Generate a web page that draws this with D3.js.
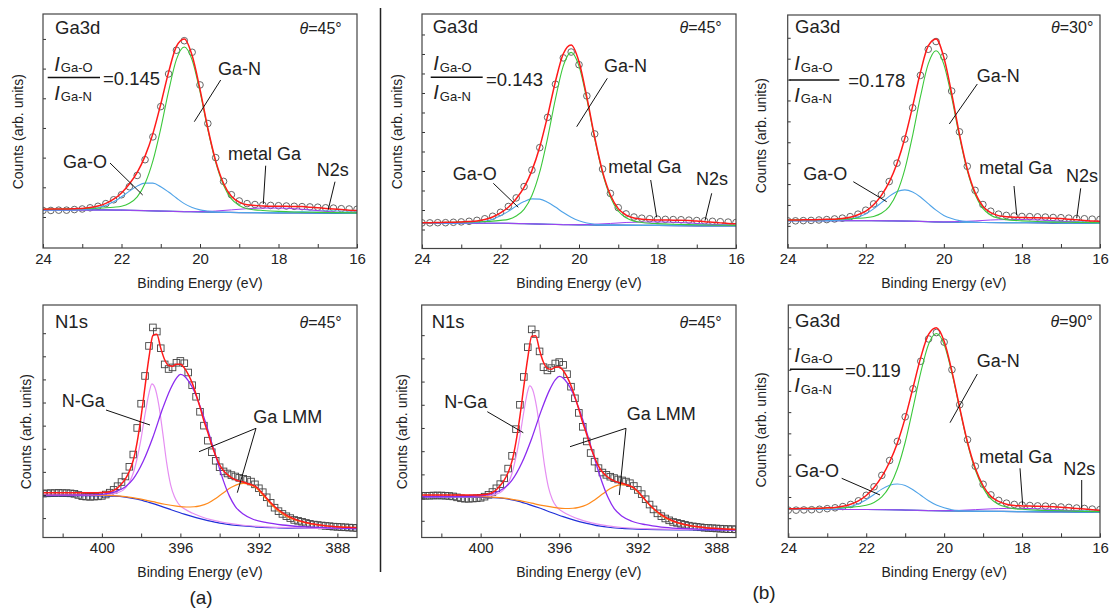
<!DOCTYPE html>
<html>
<head>
<meta charset="utf-8">
<script src="https://cdn.jsdelivr.net/npm/d3@7/dist/d3.min.js"></script>
<style>
  body { margin: 0; background: #fff; }
  svg text { font-family: "Liberation Sans", Arial, sans-serif; fill: #222; }
</style>
</head>
<body>
<svg id="fig" width="1110" height="613"></svg>
<script>
// ---------- energies / ticks ----------
const ga3dEnergy = [24.0, 23.8, 23.6, 23.4, 23.2, 23.0, 22.8, 22.6, 22.4, 22.2, 22.0, 21.8, 21.6, 21.4,
  21.2, 21.0, 20.8, 20.6, 20.4, 20.2, 20.0, 19.8, 19.6, 19.4, 19.2, 19.0, 18.8, 18.6, 18.4, 18.2, 18.0,
  17.8, 17.6, 17.4, 17.2, 17.0, 16.8, 16.6, 16.4, 16.2, 16.0];
const n1sEnergy = [403.0, 402.8, 402.6, 402.4, 402.2, 402.0, 401.8, 401.6, 401.4, 401.2,
  401.0, 400.8, 400.6, 400.4, 400.2, 400.0, 399.8, 399.6, 399.4, 399.2,
  399.0, 398.8, 398.6, 398.4, 398.2, 398.0, 397.8, 397.6, 397.4, 397.2,
  397.0, 396.8, 396.6, 396.4, 396.2, 396.0, 395.8, 395.6, 395.4, 395.2,
  395.0, 394.8, 394.6, 394.4, 394.2, 394.0, 393.8, 393.6, 393.4, 393.2,
  393.0, 392.8, 392.6, 392.4, 392.2, 392.0, 391.8, 391.6, 391.4, 391.2,
  391.0, 390.8, 390.6, 390.4, 390.2, 390.0, 389.8, 389.6, 389.4, 389.2,
  389.0, 388.8, 388.6, 388.4, 388.2, 388.0, 387.8, 387.6, 387.4, 387.2, 387.0];
const ga3dTicks = [24, 23, 22, 21, 20, 19, 18, 17, 16];
const ga3dTickLabels = [24, 22, 20, 18, 16];
const n1sTicks = [402, 400, 398, 396, 394, 392, 390, 388];
const n1sTickLabels = [400, 396, 392, 388];
const ratioLabels = ['0.145', '0.143', '0.178', '0.119'];
const angleLabels = ['45', '45', '30', '45', '45', '90'];

// ---------- Ga3d, (a) theta=45 ----------
const gaA45Points = [0.22, 0.22, 0.23, 0.23, 0.25, 0.27, 0.31, 0.36, 0.45, 0.58,
  0.75, 1.02, 1.40, 1.93, 2.70, 3.72, 4.82, 5.62, 5.94, 5.55,
  4.45, 3.15, 2.00, 1.20, 0.75, 0.54, 0.45, 0.42, 0.40, 0.39,
  0.38, 0.37, 0.36, 0.35, 0.34, 0.33, 0.31, 0.30, 0.28, 0.27, 0.26];
const gaA45Fit = [0.26, 0.27, 0.27, 0.27, 0.28, 0.29, 0.32, 0.37, 0.46, 0.60,
  0.81, 1.11, 1.50, 2.05, 2.81, 3.80, 4.88, 5.75, 6.00, 5.44,
  4.30, 2.99, 1.89, 1.13, 0.70, 0.50, 0.41, 0.39, 0.37, 0.36,
  0.36, 0.36, 0.35, 0.35, 0.33, 0.31, 0.29, 0.27, 0.25, 0.23, 0.22];
const gaA45GaN = [[24.0, 0.26], [23.6, 0.27], [23.2, 0.28], [22.8, 0.29], [22.4, 0.31], [22.2, 0.33],
  [22.0, 0.36], [21.8, 0.46], [21.6, 0.68], [21.4, 1.13], [21.2, 1.89], [21.0, 2.98], [20.8, 4.24],
  [20.6, 5.31], [20.4, 5.73], [20.2, 5.29], [20.0, 4.22], [19.8, 2.94], [19.6, 1.84], [19.4, 1.07],
  [19.2, 0.61], [19.0, 0.39], [18.8, 0.28], [18.6, 0.24], [18.4, 0.22], [18.0, 0.19], [17.6, 0.17],
  [17.0, 0.155], [16.0, 0.14]];
const gaA45GaO = [[24.0, 0.24], [23.2, 0.24], [23.0, 0.25], [22.8, 0.27], [22.6, 0.31], [22.4, 0.39],
  [22.2, 0.51], [22.0, 0.68], [21.8, 0.87], [21.6, 1.04], [21.4, 1.14], [21.2, 1.14], [21.0, 1.02],
  [20.8, 0.84], [20.6, 0.64], [20.4, 0.45], [20.2, 0.32], [20.0, 0.24], [19.8, 0.20], [19.6, 0.17],
  [19.4, 0.16], [19.0, 0.15], [18.0, 0.14], [17.0, 0.13], [16.0, 0.12]];
const gaA45Metal = [[24, 0.24], [22, 0.23], [21, 0.20], [20.4, 0.18], [20.0, 0.18], [19.6, 0.20],
  [19.2, 0.24], [18.8, 0.28], [18.4, 0.30], [18.0, 0.30], [17.6, 0.28], [17.2, 0.24], [16.8, 0.19],
  [16.4, 0.15], [16.0, 0.13]];
const gaA45N2s = [[24, 0.24], [22, 0.23], [21, 0.20], [20, 0.17], [19, 0.15], [18.4, 0.145], [18.0, 0.15],
  [17.6, 0.17], [17.2, 0.20], [16.8, 0.21], [16.4, 0.20], [16.0, 0.19]];
const gaA45Base = [[24, 0.24], [22.4, 0.24], [22.0, 0.23], [21.4, 0.215], [21.0, 0.20], [20.4, 0.18],
  [20.0, 0.17], [19.4, 0.155], [19.0, 0.15], [18.0, 0.14], [17.0, 0.13], [16.0, 0.12]];

// ---------- Ga3d, (b) theta=45 ----------
const gaB45Points = [0.34, 0.34, 0.35, 0.35, 0.37, 0.39, 0.42, 0.47, 0.55, 0.68,
  0.88, 1.18, 1.62, 2.20, 3.05, 4.20, 5.75, 7.45, 8.80, 9.10,
  8.45, 6.85, 4.90, 3.10, 1.85, 1.12, 0.80, 0.64, 0.58, 0.55,
  0.53, 0.52, 0.51, 0.50, 0.48, 0.46, 0.44, 0.42, 0.40, 0.38, 0.36];
const gaB45Fit = [0.35, 0.35, 0.36, 0.37, 0.37, 0.39, 0.41, 0.44, 0.51, 0.64,
  0.85, 1.14, 1.58, 2.16, 3.02, 4.23, 5.82, 7.59, 9.01, 9.46,
  8.60, 6.79, 4.73, 2.97, 1.77, 1.07, 0.74, 0.59, 0.53, 0.50,
  0.49, 0.49, 0.48, 0.48, 0.46, 0.44, 0.40, 0.37, 0.34, 0.31, 0.29];
const gaB45GaN = [[24.0, 0.35], [23.6, 0.36], [23.2, 0.37], [22.8, 0.39], [22.4, 0.41], [22.2, 0.43],
  [22.0, 0.47], [21.8, 0.52], [21.6, 0.69], [21.4, 1.03], [21.2, 1.74], [21.0, 2.95], [20.8, 4.69],
  [20.6, 6.70], [20.4, 8.39], [20.2, 9.08], [20.0, 8.38], [19.8, 6.67], [19.6, 4.65], [19.4, 2.89],
  [19.2, 1.67], [19.0, 0.95], [18.8, 0.60], [18.6, 0.43], [18.4, 0.36], [18.2, 0.32], [18.0, 0.30],
  [17.6, 0.27], [17.2, 0.25], [16.8, 0.23], [16.4, 0.22], [16.0, 0.21]];
const gaB45GaO = [[24.0, 0.32], [23.2, 0.32], [23.0, 0.33], [22.8, 0.34], [22.6, 0.36], [22.4, 0.42],
  [22.2, 0.53], [22.0, 0.70], [21.8, 0.93], [21.6, 1.20], [21.4, 1.43], [21.2, 1.57], [21.0, 1.56],
  [20.8, 1.40], [20.6, 1.15], [20.4, 0.87], [20.2, 0.63], [20.0, 0.45], [19.8, 0.33], [19.6, 0.27],
  [19.4, 0.24], [19.2, 0.23], [19.0, 0.22], [18.0, 0.21], [17.0, 0.19], [16.0, 0.18]];
const gaB45Metal = [[24, 0.32], [22, 0.32], [21, 0.28], [20.4, 0.25], [20.0, 0.25], [19.6, 0.27],
  [19.2, 0.31], [18.8, 0.36], [18.4, 0.38], [18.0, 0.39], [17.6, 0.37], [17.2, 0.34], [16.8, 0.28],
  [16.4, 0.24], [16.0, 0.20]];
const gaB45N2s = [[24, 0.32], [22, 0.32], [21, 0.28], [20, 0.24], [19, 0.22], [18.4, 0.21], [18.0, 0.22],
  [17.6, 0.24], [17.2, 0.27], [16.8, 0.27], [16.4, 0.26], [16.0, 0.24]];
const gaB45Base = [[24, 0.32], [22.0, 0.32], [21.4, 0.30], [21.0, 0.28], [20.4, 0.25], [20.0, 0.24],
  [19.4, 0.22], [19.0, 0.22], [18.0, 0.21], [17.0, 0.19], [16.0, 0.18]];

// ---------- Ga3d, (b) theta=30 ----------
const gaB30Points = [0.24, 0.24, 0.25, 0.26, 0.28, 0.30, 0.33, 0.37, 0.44, 0.56,
  0.75, 1.05, 1.50, 2.12, 3.00, 4.15, 5.65, 7.20, 8.45, 8.82,
  8.10, 6.45, 4.50, 2.85, 1.70, 1.02, 0.70, 0.56, 0.50, 0.47,
  0.45, 0.44, 0.43, 0.42, 0.40, 0.39, 0.37, 0.35, 0.34, 0.32, 0.31];
const gaB30Fit = [0.28, 0.28, 0.29, 0.29, 0.30, 0.31, 0.32, 0.35, 0.41, 0.53,
  0.71, 1.01, 1.46, 2.09, 2.98, 4.19, 5.72, 7.35, 8.61, 8.94,
  8.06, 6.34, 4.38, 2.72, 1.59, 0.94, 0.63, 0.49, 0.44, 0.41,
  0.40, 0.39, 0.39, 0.38, 0.36, 0.35, 0.32, 0.29, 0.26, 0.23, 0.22];
const gaB30GaN = [[24.0, 0.28], [23.6, 0.29], [23.2, 0.30], [22.8, 0.31], [22.4, 0.34], [22.2, 0.36],
  [22.0, 0.39], [21.8, 0.45], [21.6, 0.60], [21.4, 0.92], [21.2, 1.58], [21.0, 2.70], [20.8, 4.32],
  [20.6, 6.18], [20.4, 7.75], [20.2, 8.38], [20.0, 7.73], [19.8, 6.15], [19.6, 4.27], [19.4, 2.64],
  [19.2, 1.50], [19.0, 0.84], [18.8, 0.51], [18.6, 0.36], [18.4, 0.30], [18.2, 0.26], [18.0, 0.24],
  [17.6, 0.21], [17.2, 0.18], [16.8, 0.17], [16.4, 0.16], [16.0, 0.15]];
const gaB30GaO = [[24.0, 0.25], [23.0, 0.25], [22.8, 0.26], [22.6, 0.28], [22.4, 0.33], [22.2, 0.42],
  [22.0, 0.57], [21.8, 0.81], [21.6, 1.11], [21.4, 1.41], [21.2, 1.64], [21.0, 1.72], [20.8, 1.62],
  [20.6, 1.38], [20.4, 1.06], [20.2, 0.75], [20.0, 0.50], [19.8, 0.35], [19.6, 0.25], [19.4, 0.20],
  [19.2, 0.17], [19.0, 0.16], [18.0, 0.15], [17.0, 0.13], [16.0, 0.12]];
const gaB30Metal = [[24, 0.25], [22, 0.25], [21, 0.23], [20.4, 0.20], [20.0, 0.19], [19.6, 0.205],
  [19.2, 0.235], [18.8, 0.28], [18.4, 0.30], [18.0, 0.30], [17.6, 0.285], [17.2, 0.245], [16.8, 0.20],
  [16.4, 0.16], [16.0, 0.13]];
const gaB30N2s = [[24, 0.25], [22, 0.25], [21, 0.23], [20, 0.18], [19, 0.16], [18.4, 0.155], [18.0, 0.16],
  [17.6, 0.185], [17.2, 0.205], [16.8, 0.21], [16.4, 0.195], [16.0, 0.18]];
const gaB30Base = [[24, 0.25], [22.0, 0.25], [21.4, 0.24], [21.0, 0.23], [20.4, 0.20], [20.0, 0.18],
  [19.4, 0.165], [19.0, 0.16], [18.0, 0.15], [17.0, 0.13], [16.0, 0.12]];

// ---------- Ga3d, (b) theta=90 ----------
const gaB90Points = [0.38, 0.38, 0.39, 0.40, 0.42, 0.45, 0.49, 0.55, 0.65, 0.82,
  1.08, 1.48, 2.02, 2.72, 3.62, 4.78, 6.10, 7.40, 8.45, 8.75,
  8.30, 7.00, 5.35, 3.70, 2.45, 1.60, 1.10, 0.84, 0.71, 0.65,
  0.62, 0.60, 0.58, 0.57, 0.55, 0.53, 0.51, 0.48, 0.46, 0.43, 0.41];
const gaB90Fit = [0.45, 0.45, 0.46, 0.46, 0.47, 0.49, 0.51, 0.56, 0.66, 0.82,
  1.07, 1.45, 1.96, 2.65, 3.55, 4.73, 6.15, 7.58, 8.66, 8.98,
  8.34, 6.92, 5.20, 3.58, 2.35, 1.53, 1.03, 0.79, 0.66, 0.60,
  0.58, 0.57, 0.56, 0.55, 0.54, 0.52, 0.49, 0.46, 0.43, 0.40, 0.38];
const gaB90GaN = [[24.0, 0.45], [23.6, 0.46], [23.2, 0.47], [22.8, 0.49], [22.4, 0.52], [22.2, 0.55],
  [22.0, 0.61], [21.8, 0.74], [21.6, 1.00], [21.4, 1.50], [21.2, 2.33], [21.0, 3.58], [20.8, 5.19],
  [20.6, 6.87], [20.4, 8.20], [20.2, 8.71], [20.0, 8.19], [19.8, 6.84], [19.6, 5.15], [19.4, 3.52],
  [19.2, 2.27], [19.0, 1.43], [18.8, 0.91], [18.6, 0.65], [18.4, 0.52], [18.2, 0.45], [18.0, 0.42],
  [17.6, 0.38], [17.2, 0.36], [16.8, 0.34], [16.4, 0.32], [16.0, 0.31]];
const gaB90GaO = [[24.0, 0.41], [23.2, 0.41], [23.0, 0.42], [22.8, 0.43], [22.6, 0.47], [22.4, 0.55],
  [22.2, 0.68], [22.0, 0.87], [21.8, 1.12], [21.6, 1.37], [21.4, 1.55], [21.2, 1.61], [21.0, 1.54],
  [20.8, 1.34], [20.6, 1.08], [20.4, 0.82], [20.2, 0.62], [20.0, 0.49], [19.8, 0.40], [19.6, 0.36],
  [19.4, 0.34], [19.2, 0.33], [19.0, 0.325], [18.0, 0.31], [17.0, 0.295], [16.0, 0.28]];
const gaB90Metal = [[24, 0.41], [22, 0.41], [21, 0.385], [20.4, 0.36], [20.0, 0.355], [19.6, 0.37],
  [19.2, 0.405], [18.8, 0.44], [18.4, 0.46], [18.0, 0.46], [17.6, 0.445], [17.2, 0.41], [16.8, 0.36],
  [16.4, 0.32], [16.0, 0.29]];
const gaB90N2s = [[24, 0.41], [22, 0.41], [21, 0.385], [20, 0.345], [19, 0.325], [18.4, 0.315], [18.0, 0.32],
  [17.6, 0.345], [17.2, 0.37], [16.8, 0.37], [16.4, 0.355], [16.0, 0.34]];
const gaB90Base = [[24, 0.41], [22.0, 0.41], [21.4, 0.40], [21.0, 0.385], [20.4, 0.36], [20.0, 0.345],
  [19.4, 0.33], [19.0, 0.325], [18.0, 0.31], [17.0, 0.295], [16.0, 0.28]];

// ---------- N1s, (a) ----------
const n1sAPoints = [1.06, 1.07, 1.08, 1.08, 1.09, 1.08, 1.08, 1.07, 1.05, 1.00,
  0.95, 0.93, 0.92, 0.93, 0.94, 0.96, 1.02, 1.10, 1.22, 1.38,
  1.56, 1.80, 2.22, 2.75, 3.90, 4.95, 6.15, 7.45, 8.25, 8.07,
  7.35, 6.65, 6.45, 6.52, 6.72, 6.80, 6.70, 6.30, 5.75, 5.25,
  4.60, 4.00, 3.35, 2.85, 2.48, 2.20, 2.02, 1.93, 1.86, 1.80,
  1.74, 1.70, 1.65, 1.58, 1.46, 1.29, 1.12, 0.90, 0.66, 0.45,
  0.30, 0.18, 0.08, 0.00, -0.08, -0.12, -0.16, -0.21, -0.25, -0.28,
  -0.30, -0.32, -0.34, -0.35, -0.37, -0.38, -0.39, -0.40, -0.41, -0.42, -0.43];
const n1sAFit = [1.10, 1.10, 1.10, 1.10, 1.10, 1.10, 1.10, 1.10, 1.10, 1.10,
  1.10, 1.10, 1.10, 1.10, 1.10, 1.11, 1.12, 1.14, 1.20, 1.31,
  1.48, 1.70, 2.02, 2.50, 3.30, 4.40, 5.70, 6.95, 7.90, 7.95,
  7.35, 6.85, 6.60, 6.57, 6.66, 6.66, 6.50, 6.22, 5.85, 5.35,
  4.80, 4.20, 3.70, 3.15, 2.70, 2.30, 2.05, 1.88, 1.75, 1.66,
  1.60, 1.56, 1.50, 1.45, 1.38, 1.24, 1.05, 0.86, 0.67, 0.50,
  0.36, 0.24, 0.13, 0.04, -0.04, -0.10, -0.15, -0.19, -0.23, -0.26,
  -0.29, -0.31, -0.33, -0.35, -0.36, -0.38, -0.39, -0.40, -0.40, -0.41, -0.41];
const n1sABase = [[403, 0.97], [401, 0.97], [400, 0.96], [399.4, 0.95], [398.8, 0.91], [398.2, 0.82],
  [397.6, 0.68], [397.0, 0.52], [396.4, 0.34], [395.8, 0.17], [395.2, 0.02], [394.6, -0.11],
  [394.0, -0.22], [393.4, -0.29], [392.8, -0.34], [392.0, -0.39], [391.0, -0.42], [389.5, -0.44], [387, -0.46]];
const n1sANGa = [[403, 0.98], [401, 0.98], [400, 0.99], [399.6, 1.02], [399.2, 1.10], [398.9, 1.22],
  [398.6, 1.55], [398.4, 1.95], [398.2, 2.60], [398.0, 3.45], [397.8, 4.50], [397.6, 5.40], [397.45, 5.81],
  [397.3, 5.65], [397.1, 4.90], [396.9, 3.70], [396.7, 2.40], [396.5, 1.45], [396.3, 0.92], [396.1, 0.62],
  [395.8, 0.40], [395.4, 0.22], [395.0, 0.08], [394.4, -0.08], [393.6, -0.22], [392.8, -0.31],
  [391.6, -0.38], [390, -0.42], [387, -0.45]];
const n1sALmmMain = [[403, 0.99], [401, 1.00], [400, 1.03], [399.6, 1.08], [399.2, 1.18], [398.8, 1.36],
  [398.4, 1.70], [397.9, 2.45], [397.4, 3.50], [396.9, 4.75], [396.5, 5.60], [396.2, 6.06], [396.0, 6.22],
  [395.8, 6.15], [395.6, 5.95], [395.3, 5.50], [395.0, 4.85], [394.7, 4.10], [394.4, 3.25], [394.1, 2.40],
  [393.8, 1.60], [393.5, 0.95], [393.2, 0.50], [392.8, 0.18], [392.3, -0.05], [391.6, -0.20],
  [390.8, -0.30], [389.8, -0.37], [388.5, -0.42], [387, -0.45]];
const n1sALmmSide = [[403, 1.00], [401, 1.00], [400, 0.99], [399.4, 0.97], [398.8, 0.93], [398.0, 0.82],
  [397.4, 0.71], [396.8, 0.60], [396.2, 0.52], [395.7, 0.48], [395.3, 0.49], [395.0, 0.53], [394.6, 0.64],
  [394.2, 0.85], [393.8, 1.10], [393.4, 1.33], [393.0, 1.48], [392.8, 1.50], [392.5, 1.46], [392.2, 1.34],
  [391.8, 1.00], [391.4, 0.62], [391.0, 0.30], [390.6, 0.07], [390.2, -0.07], [389.8, -0.17],
  [389.4, -0.24], [388.8, -0.32], [388.0, -0.38], [387, -0.42]];

// ---------- N1s, (b) ----------
const n1sBPoints = [1.07, 1.08, 1.08, 1.09, 1.09, 1.09, 1.08, 1.07, 1.05, 1.01,
  0.97, 0.95, 0.95, 0.96, 0.97, 0.99, 1.04, 1.12, 1.24, 1.40,
  1.58, 1.83, 2.25, 2.80, 3.95, 5.00, 6.20, 7.48, 8.25, 8.05,
  7.30, 6.62, 6.48, 6.58, 6.78, 6.84, 6.72, 6.32, 5.78, 5.28,
  4.65, 4.05, 3.42, 2.92, 2.55, 2.27, 2.08, 1.98, 1.90, 1.84,
  1.78, 1.74, 1.69, 1.62, 1.50, 1.33, 1.15, 0.93, 0.70, 0.49,
  0.32, 0.20, 0.10, 0.02, -0.05, -0.09, -0.13, -0.17, -0.21, -0.24,
  -0.26, -0.28, -0.30, -0.31, -0.32, -0.33, -0.34, -0.35, -0.36, -0.36, -0.37];
const n1sBFit = [1.11, 1.11, 1.11, 1.11, 1.11, 1.11, 1.11, 1.11, 1.11, 1.11,
  1.11, 1.11, 1.11, 1.11, 1.11, 1.12, 1.13, 1.16, 1.22, 1.34,
  1.52, 1.75, 2.08, 2.58, 3.40, 4.50, 5.80, 7.02, 7.95, 7.98,
  7.35, 6.83, 6.57, 6.53, 6.62, 6.63, 6.48, 6.20, 5.83, 5.34,
  4.80, 4.22, 3.72, 3.18, 2.74, 2.36, 2.10, 1.93, 1.81, 1.72,
  1.66, 1.62, 1.56, 1.50, 1.42, 1.27, 1.08, 0.88, 0.69, 0.53,
  0.39, 0.27, 0.16, 0.07, -0.01, -0.07, -0.12, -0.16, -0.20, -0.23,
  -0.25, -0.27, -0.29, -0.31, -0.32, -0.33, -0.34, -0.35, -0.36, -0.36, -0.37];
const n1sBBase = [[403, 1.02], [401, 1.02], [400, 1.01], [399.4, 1.00], [398.8, 0.96], [398.2, 0.87],
  [397.6, 0.72], [397.0, 0.55], [396.4, 0.36], [395.8, 0.18], [395.2, 0.02], [394.6, -0.11],
  [394.0, -0.22], [393.4, -0.29], [392.8, -0.33], [392.0, -0.36], [391.0, -0.38], [389.5, -0.39], [387, -0.40]];
const n1sBNGa = [[403, 1.03], [401, 1.03], [400, 1.04], [399.6, 1.07], [399.2, 1.15], [398.9, 1.28],
  [398.6, 1.62], [398.4, 2.05], [398.2, 2.75], [398.0, 3.65], [397.8, 4.70], [397.6, 5.60], [397.5, 5.82],
  [397.35, 5.65], [397.15, 4.90], [396.95, 3.70], [396.75, 2.40], [396.55, 1.45], [396.35, 0.92],
  [396.15, 0.62], [395.8, 0.38], [395.4, 0.21], [395.0, 0.07], [394.4, -0.08], [393.6, -0.21],
  [392.8, -0.29], [391.6, -0.34], [390, -0.37], [387, -0.39]];
const n1sBLmmMain = [[403, 1.04], [401, 1.05], [400, 1.08], [399.6, 1.13], [399.2, 1.23], [398.8, 1.41],
  [398.4, 1.75], [397.9, 2.50], [397.4, 3.55], [396.9, 4.78], [396.5, 5.62], [396.2, 6.07], [396.0, 6.22],
  [395.8, 6.15], [395.6, 5.95], [395.3, 5.50], [395.0, 4.85], [394.7, 4.10], [394.4, 3.25], [394.1, 2.40],
  [393.8, 1.62], [393.5, 0.98], [393.2, 0.52], [392.8, 0.20], [392.3, -0.02], [391.6, -0.17],
  [390.8, -0.27], [389.8, -0.33], [388.5, -0.37], [387, -0.39]];
const n1sBLmmSide = [[403, 1.05], [401, 1.05], [400, 1.04], [399.4, 1.02], [398.8, 0.98], [398.0, 0.87],
  [397.4, 0.76], [396.8, 0.65], [396.2, 0.57], [395.7, 0.53], [395.3, 0.54], [395.0, 0.58], [394.6, 0.69],
  [394.2, 0.90], [393.8, 1.15], [393.4, 1.39], [393.0, 1.54], [392.8, 1.56], [392.5, 1.53], [392.2, 1.40],
  [391.8, 1.06], [391.4, 0.68], [391.0, 0.36], [390.6, 0.12], [390.2, -0.03], [389.8, -0.13],
  [389.4, -0.20], [388.8, -0.28], [388.0, -0.34], [387, -0.37]];

// ---------- styles ----------
const gaColors = { base: '#1c1ca0', n2s: '#5ec4ee', metal: '#a040f0', gao: '#4fa3e8', gan: '#3cc83c', fit: '#ff1a1a' };
const n1sColors = { base: '#2030d8', nga: '#e58ef2', main: '#8c2cf0', side: '#ff8a1c', fit: '#ff1a1a' };

function gaCurves (fit, gan, gao, metal, n2s, base) {
  return [
    { data: base, color: gaColors.base, width: 1.2 },
    { data: n2s, color: gaColors.n2s, width: 1 },
    { data: metal, color: gaColors.metal, width: 1 },
    { data: gao, color: gaColors.gao, width: 1.1 },
    { data: gan, color: gaColors.gan, width: 1.1 },
    { data: d3.zip(ga3dEnergy, fit), color: gaColors.fit, width: 1.5 }
  ];
}

function n1sCurves (fit, nga, main, side, base) {
  return [
    { data: base, color: n1sColors.base, width: 1.2 },
    { data: nga, color: n1sColors.nga, width: 1.2 },
    { data: side, color: n1sColors.side, width: 1.2 },
    { data: main, color: n1sColors.main, width: 1.3 },
    { data: d3.zip(n1sEnergy, fit), color: n1sColors.fit, width: 1.5 }
  ];
}

const ga3dAxis = { xDomain: [24, 16], xTicks: ga3dTicks, xLabels: ga3dTickLabels, energy: ga3dEnergy, marker: 'circle' };
const n1sAxis = { xDomain: [403, 387], xTicks: n1sTicks, xLabels: n1sTickLabels, energy: n1sEnergy, marker: 'square' };

const panels = [
  Object.assign({}, ga3dAxis, {
    id: 'a1', x0: 43, x1: 357, y0: 14, y1: 248, yDomain: [-1.045, 6.84], yTicks: 6,
    title: 'Ga3d', titleX: 12, titleY: 19.5, angle: angleLabels[0], angleX: 298.7, ratio: ratioLabels[0],
    yTitleDx: 20, yTitleY: 131.7,
    frac: { ix: 11.3, numY: 56.5, denY: 85.5, barX1: 4.7, barX2: 57, barY: 63.5, eqX: 60, eqY: 71 },
    notes: [
      { text: 'Ga-N', x: 175, y: 61, lines: [[177.7, 66, 151.3, 107.7]] },
      { text: 'Ga-O', x: 20, y: 154, lines: [[67, 149, 99.7, 181]] },
      { text: 'metal Ga', x: 185, y: 146, lines: [[222.7, 151.7, 220.3, 190]] },
      { text: 'N2s', x: 273.7, y: 162, lines: [[292, 167.7, 285.3, 195.3]] }
    ],
    points: gaA45Points,
    curves: gaCurves(gaA45Fit, gaA45GaN, gaA45GaO, gaA45Metal, gaA45N2s, gaA45Base)
  }),
  Object.assign({}, ga3dAxis, {
    id: 'b1', x0: 422, x1: 736, y0: 14, y1: 248.5, yDomain: [-0.974, 11.05], yTicks: 10,
    title: 'Ga3d', titleX: 10.7, titleY: 19.3, angle: angleLabels[1], angleX: 299.7, ratio: ratioLabels[1],
    yTitleDx: 20, yTitleY: 131.7,
    frac: { ix: 11.3, numY: 56, denY: 85.3, barX1: 8.7, barX2: 60.7, barY: 63.3, eqX: 64, eqY: 72 },
    notes: [
      { text: 'Ga-N', x: 182, y: 57.7, lines: [[185.3, 64.3, 154.7, 112.7]] },
      { text: 'Ga-O', x: 30.7, y: 166, lines: [[71.3, 169.3, 96.3, 193.3]] },
      { text: 'metal Ga', x: 186.3, y: 159.3, lines: [[228.7, 166, 234.7, 203.3]] },
      { text: 'N2s', x: 274, y: 171, lines: [[289.7, 179.3, 283, 206.7]] }
    ],
    points: gaB45Points,
    curves: gaCurves(gaB45Fit, gaB45GaN, gaB45GaO, gaB45Metal, gaB45N2s, gaB45Base)
  }),
  Object.assign({}, ga3dAxis, {
    id: 'b2', x0: 787.7, x1: 1100, y0: 15, y1: 248, yDomain: [-1.06, 10.09], yTicks: 9,
    title: 'Ga3d', titleX: 7.3, titleY: 18.3, angle: angleLabels[2], angleX: 305.6, ratio: ratioLabels[2],
    yTitleDx: 21.7, yTitleY: 135.7,
    frac: { ix: 6.6, numY: 55, denY: 86.7, barX1: 1.6, barX2: 51.6, barY: 65, eqX: 60.6, eqY: 72.3 },
    notes: [
      { text: 'Ga-N', x: 189, y: 66.7, lines: [[189.6, 69, 161.6, 109]] },
      { text: 'Ga-O', x: 15.6, y: 165, lines: [[65.6, 166.7, 99, 186.7]] },
      { text: 'metal Ga', x: 191.6, y: 159, lines: [[226.3, 171, 229, 200]] },
      { text: 'N2s', x: 278.3, y: 166.7, lines: [[293, 173.3, 289, 203.3]] }
    ],
    points: gaB30Points,
    curves: gaCurves(gaB30Fit, gaB30GaN, gaB30GaO, gaB30Metal, gaB30N2s, gaB30Base)
  }),
  Object.assign({}, n1sAxis, {
    id: 'a2', x0: 43, x1: 357, y0: 305, y1: 537.5, yDomain: [-0.84, 9.22], yTicks: 8,
    title: 'N1s', titleX: 12, titleY: 23.3, angle: angleLabels[3], angleX: 298.7,
    yTitleDx: 12.5, yTitleY: 431.7,
    notes: [
      { text: 'N-Ga', x: 18.7, y: 101.7, lines: [[63, 105, 107, 120]] },
      { text: 'Ga LMM', x: 210.3, y: 118.3, lines: [[213, 123.3, 156, 146.7], [213, 123.3, 194.3, 187.7]] }
    ],
    points: n1sAPoints,
    curves: n1sCurves(n1sAFit, n1sANGa, n1sALmmMain, n1sALmmSide, n1sABase)
  }),
  Object.assign({}, n1sAxis, {
    id: 'b3', x0: 421.7, x1: 736, y0: 305, y1: 537.5, yDomain: [-0.72, 9.3], yTicks: 8,
    title: 'N1s', titleX: 10, titleY: 23.3, angle: angleLabels[4], angleX: 300,
    yTitleDx: 14.7, yTitleY: 431.7,
    notes: [
      { text: 'N-Ga', x: 22.6, y: 103.3, lines: [[65.6, 106.7, 101.6, 127.7]] },
      { text: 'Ga LMM', x: 205, y: 115, lines: [[204.3, 123.3, 148.3, 141.7], [204.3, 123.3, 197.6, 190]] }
    ],
    points: n1sBPoints,
    curves: n1sCurves(n1sBFit, n1sBNGa, n1sBLmmMain, n1sBLmmSide, n1sBBase)
  }),
  Object.assign({}, ga3dAxis, {
    id: 'b4', x0: 788.3, x1: 1100, y0: 305, y1: 537.3, yDomain: [-0.90, 10.05], yTicks: 9,
    title: 'Ga3d', titleX: 6.7, titleY: 22.3, angle: angleLabels[5], angleX: 304.4, ratio: ratioLabels[3],
    yTitleDx: 22.3, yTitleY: 430,
    frac: { ix: 6, numY: 56.7, denY: 87, barX1: 1.7, barX2: 55, barY: 64.3, eqX: 56.7, eqY: 71.7 },
    notes: [
      { text: 'Ga-N', x: 188.4, y: 61.7, lines: [[189, 69, 161.7, 117.7]] },
      { text: 'Ga-O', x: 6.7, y: 171.7, lines: [[53.4, 173.3, 91.7, 190]] },
      { text: 'metal Ga', x: 191, y: 158.3, lines: [[231.7, 163.3, 234.4, 200]] },
      { text: 'N2s', x: 275, y: 170, lines: [[293.4, 175, 293.4, 203.3]] }
    ],
    points: gaB90Points,
    curves: gaCurves(gaB90Fit, gaB90GaN, gaB90GaO, gaB90Metal, gaB90N2s, gaB90Base)
  })
];

const fontFamily = '"Liberation Sans", Arial, sans-serif';
const svg = d3.select('#fig');

function drawPanel (p) {
  const x = d3.scaleLinear().domain(p.xDomain).range([p.x0, p.x1]);
  const y = d3.scaleLinear().domain(p.yDomain).range([p.y1, p.y0]);
  const g = svg.append('g').attr('class', 'panel-' + p.id);

  g.append('clipPath').attr('id', 'clip-' + p.id)
    .append('rect')
      .attr('x', p.x0).attr('y', p.y0)
      .attr('width', p.x1 - p.x0).attr('height', p.y1 - p.y0);

  const plot = g.append('g').attr('clip-path', `url(#clip-${p.id})`);
  const pts = d3.zip(p.energy, p.points);

  if (p.marker === 'circle') {
    plot.selectAll('.pt').data(pts).enter().append('circle')
      .attr('class', 'pt')
      .attr('cx', d => x(d[0]))
      .attr('cy', d => y(d[1]))
      .attr('r', 3.3)
      .attr('fill', 'none')
      .attr('stroke', '#555')
      .attr('stroke-width', 0.9);
  } else {
    plot.selectAll('.pt').data(pts).enter().append('rect')
      .attr('class', 'pt')
      .attr('x', d => x(d[0]) - 3.3)
      .attr('y', d => y(d[1]) - 3.3)
      .attr('width', 6.6)
      .attr('height', 6.6)
      .attr('fill', 'none')
      .attr('stroke', '#444')
      .attr('stroke-width', 0.9);
  }

  const line = d3.line().x(d => x(d[0])).y(d => y(d[1])).curve(d3.curveMonotoneX);
  p.curves.forEach(c => {
    plot.append('path').datum(c.data)
      .attr('d', line)
      .attr('fill', 'none')
      .attr('stroke', c.color)
      .attr('stroke-width', c.width);
  });

  // axes: inward ticks, no domain line (frame drawn separately)
  g.append('g')
    .attr('transform', `translate(0,${p.y1})`)
    .call(d3.axisBottom(x).tickValues(p.xTicks).tickSize(-4).tickPadding(5)
      .tickFormat(d => p.xLabels.includes(d) ? d : ''))
    .call(a => a.select('.domain').remove())
    .attr('font-size', 15).attr('font-family', fontFamily).attr('color', '#333');

  g.append('g')
    .attr('transform', `translate(${p.x0},0)`)
    .call(d3.axisLeft(y).tickValues(d3.range(0, p.yTicks + 1)).tickSize(-3).tickFormat(''))
    .call(a => a.select('.domain').remove())
    .attr('color', '#333');

  g.append('rect')
    .attr('x', p.x0).attr('y', p.y0)
    .attr('width', p.x1 - p.x0).attr('height', p.y1 - p.y0)
    .attr('fill', 'none').attr('stroke', '#444').attr('stroke-width', 1.2);

  g.append('text')
    .attr('x', (p.x0 + p.x1) / 2).attr('y', p.y1 + 39.5)
    .attr('text-anchor', 'middle').attr('font-size', 14)
    .text('Binding Energy (eV)');

  g.append('text')
    .attr('transform', `translate(${p.x0 - p.yTitleDx},${p.yTitleY}) rotate(-90)`)
    .attr('text-anchor', 'middle').attr('font-size', 14)
    .text('Counts (arb. units)');

  g.append('text')
    .attr('x', p.x0 + p.titleX).attr('y', p.y0 + p.titleY)
    .attr('font-size', 18.5)
    .text(p.title);

  const th = g.append('text')
    .attr('x', p.x0 + p.angleX).attr('y', p.y0 + p.titleY)
    .attr('text-anchor', 'end').attr('font-size', 16);
  th.append('tspan').attr('font-style', 'italic').text('θ');
  th.append('tspan').text('=' + p.angle + '°');

  if (p.frac) {
    const f = p.frac;
    [['Ga-O', f.numY], ['Ga-N', f.denY]].forEach(([sub, yy]) => {
      const t = g.append('text').attr('x', p.x0 + f.ix).attr('y', p.y0 + yy).attr('font-size', 20);
      t.append('tspan').attr('font-style', 'italic').text('I');
      t.append('tspan').attr('font-size', 13).attr('dx', 1).attr('dy', 1.5).text(sub);
    });
    g.append('line')
      .attr('x1', p.x0 + f.barX1).attr('x2', p.x0 + f.barX2)
      .attr('y1', p.y0 + f.barY).attr('y2', p.y0 + f.barY)
      .attr('stroke', '#111').attr('stroke-width', 1.6);
    g.append('text')
      .attr('x', p.x0 + f.eqX).attr('y', p.y0 + f.eqY)
      .attr('font-size', 18.5)
      .text('=' + p.ratio);
  }

  p.notes.forEach(n => {
    g.append('text')
      .attr('x', p.x0 + n.x).attr('y', p.y0 + n.y)
      .attr('font-size', 18)
      .text(n.text);
    n.lines.forEach(l => {
      g.append('line')
        .attr('x1', p.x0 + l[0]).attr('y1', p.y0 + l[1])
        .attr('x2', p.x0 + l[2]).attr('y2', p.y0 + l[3])
        .attr('stroke', '#111').attr('stroke-width', 1);
    });
  });
}

panels.forEach(drawPanel);

// divider between (a) and (b)
svg.append('line')
  .attr('x1', 380.5).attr('x2', 380.5).attr('y1', 8).attr('y2', 572)
  .attr('stroke', '#222').attr('stroke-width', 1.5);

svg.append('text').attr('x', 201).attr('y', 604).attr('text-anchor', 'middle').attr('font-size', 19).text('(a)');
svg.append('text').attr('x', 764).attr('y', 599).attr('text-anchor', 'middle').attr('font-size', 19).text('(b)');
</script>
</body>
</html>
